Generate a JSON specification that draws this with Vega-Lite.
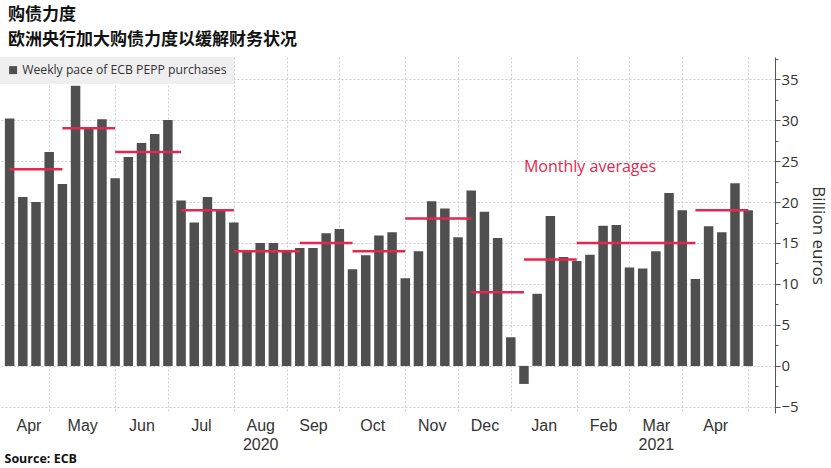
{
  "$schema": "https://vega.github.io/schema/vega-lite/v6.json",
  "width": 775,
  "height": 356,
  "autosize": {"type": "none"},
  "padding": {"left": 0, "top": 57, "right": 56, "bottom": 55},
  "background": "white",
  "title": {
    "text": "购债力度",
    "subtitle": "欧洲央行加大购债力度以缓解财务状况",
    "anchor": "start",
    "frame": "group",
    "dx": 8,
    "offset": 8,
    "font": "Noto Sans CJK SC",
    "fontSize": 17,
    "fontWeight": "bold",
    "color": "#111111",
    "subtitleFont": "Noto Sans CJK SC",
    "subtitleFontSize": 17,
    "subtitleFontWeight": "bold",
    "subtitleColor": "#111111",
    "subtitlePadding": 8
  },
  "datasets": {
    "weekly": [
      {"date": "2020-04-10", "value": 30.2},
      {"date": "2020-04-17", "value": 20.6},
      {"date": "2020-04-24", "value": 20.0},
      {"date": "2020-05-01", "value": 26.1},
      {"date": "2020-05-08", "value": 22.2},
      {"date": "2020-05-15", "value": 34.2},
      {"date": "2020-05-22", "value": 28.9},
      {"date": "2020-05-29", "value": 30.1},
      {"date": "2020-06-05", "value": 22.9},
      {"date": "2020-06-12", "value": 25.5},
      {"date": "2020-06-19", "value": 27.2},
      {"date": "2020-06-26", "value": 28.3},
      {"date": "2020-07-03", "value": 30.0},
      {"date": "2020-07-10", "value": 20.2},
      {"date": "2020-07-17", "value": 17.5},
      {"date": "2020-07-24", "value": 20.6},
      {"date": "2020-07-31", "value": 19.0},
      {"date": "2020-08-07", "value": 17.5},
      {"date": "2020-08-14", "value": 13.9},
      {"date": "2020-08-21", "value": 15.0},
      {"date": "2020-08-28", "value": 15.0},
      {"date": "2020-09-04", "value": 13.9},
      {"date": "2020-09-11", "value": 14.4},
      {"date": "2020-09-18", "value": 14.4},
      {"date": "2020-09-25", "value": 16.2},
      {"date": "2020-10-02", "value": 16.7},
      {"date": "2020-10-09", "value": 11.8},
      {"date": "2020-10-16", "value": 13.5},
      {"date": "2020-10-23", "value": 15.9},
      {"date": "2020-10-30", "value": 16.3},
      {"date": "2020-11-06", "value": 10.7},
      {"date": "2020-11-13", "value": 14.0},
      {"date": "2020-11-20", "value": 20.1},
      {"date": "2020-11-27", "value": 19.2},
      {"date": "2020-12-04", "value": 15.7},
      {"date": "2020-12-11", "value": 21.4},
      {"date": "2020-12-18", "value": 18.8},
      {"date": "2020-12-25", "value": 15.6},
      {"date": "2021-01-01", "value": 3.5},
      {"date": "2021-01-08", "value": -2.2},
      {"date": "2021-01-15", "value": 8.8},
      {"date": "2021-01-22", "value": 18.3},
      {"date": "2021-01-29", "value": 13.3},
      {"date": "2021-02-05", "value": 12.8},
      {"date": "2021-02-12", "value": 13.55},
      {"date": "2021-02-19", "value": 17.1},
      {"date": "2021-02-26", "value": 17.2},
      {"date": "2021-03-05", "value": 12.0},
      {"date": "2021-03-12", "value": 11.9},
      {"date": "2021-03-19", "value": 14.0},
      {"date": "2021-03-26", "value": 21.1},
      {"date": "2021-04-02", "value": 19.0},
      {"date": "2021-04-09", "value": 10.6},
      {"date": "2021-04-16", "value": 17.05},
      {"date": "2021-04-23", "value": 16.3},
      {"date": "2021-04-30", "value": 22.3},
      {"date": "2021-05-07", "value": 19.0}
    ],
    "monthly": [
      {"month": "Apr 2020", "start": "2020-04-10", "end": "2020-05-08", "value": 24.0},
      {"month": "May 2020", "start": "2020-05-08", "end": "2020-06-05", "value": 29.0},
      {"month": "Jun 2020", "start": "2020-06-05", "end": "2020-07-10", "value": 26.1},
      {"month": "Jul 2020", "start": "2020-07-10", "end": "2020-08-07", "value": 19.0},
      {"month": "Aug 2020", "start": "2020-08-07", "end": "2020-09-11", "value": 14.0},
      {"month": "Sep 2020", "start": "2020-09-11", "end": "2020-10-09", "value": 15.0},
      {"month": "Oct 2020", "start": "2020-10-09", "end": "2020-11-06", "value": 14.0},
      {"month": "Nov 2020", "start": "2020-11-06", "end": "2020-12-11", "value": 18.0},
      {"month": "Dec 2020", "start": "2020-12-11", "end": "2021-01-08", "value": 9.0},
      {"month": "Jan 2021", "start": "2021-01-08", "end": "2021-02-05", "value": 13.0},
      {"month": "Feb 2021", "start": "2021-02-05", "end": "2021-03-05", "value": 15.0},
      {"month": "Mar 2021", "start": "2021-03-05", "end": "2021-04-09", "value": 15.0},
      {"month": "Apr 2021", "start": "2021-04-09", "end": "2021-05-07", "value": 19.0}
    ],
    "notes": [
      {"label": "Monthly averages", "date": "2021-01-08", "value": 24.3}
    ]
  },
  "layer": [
    {
      "data": {"name": "weekly"},
      "mark": {"type": "bar", "width": 9.5},
      "encoding": {
        "x": {
          "field": "date",
          "type": "temporal",
          "scale": {
            "type": "utc",
            "domain": [
              {"year": 2020, "month": 4, "date": 7, "hours": 13, "utc": true},
              {"year": 2021, "month": 5, "date": 18, "hours": 14, "utc": true}
            ]
          },
          "axis": {
            "orient": "bottom",
            "values": [
              {"year": 2020, "month": 5, "date": 1, "utc": true},
              {"year": 2020, "month": 6, "date": 5, "utc": true},
              {"year": 2020, "month": 7, "date": 3, "utc": true},
              {"year": 2020, "month": 8, "date": 7, "utc": true},
              {"year": 2020, "month": 9, "date": 4, "utc": true},
              {"year": 2020, "month": 10, "date": 2, "utc": true},
              {"year": 2020, "month": 11, "date": 6, "utc": true},
              {"year": 2020, "month": 12, "date": 4, "utc": true},
              {"year": 2021, "month": 1, "date": 1, "utc": true},
              {"year": 2021, "month": 2, "date": 5, "utc": true},
              {"year": 2021, "month": 3, "date": 5, "utc": true},
              {"year": 2021, "month": 4, "date": 2, "utc": true},
              {"year": 2021, "month": 5, "date": 7, "utc": true}
            ],
            "labels": false,
            "ticks": false,
            "domain": false,
            "grid": true,
            "gridColor": "#cccccc",
            "gridDash": [2, 2],
            "gridWidth": 1,
            "title": null
          }
        },
        "y": {
          "field": "value",
          "type": "quantitative",
          "scale": {"domain": [-5.75, 37.7], "nice": false},
          "axis": {
            "orient": "right",
            "values": [-5, 0, 5, 10, 15, 20, 25, 30, 35],
            "grid": true,
            "gridColor": "#cccccc",
            "gridDash": [2, 2],
            "gridWidth": 1,
            "domain": true,
            "domainColor": "#555555",
            "domainWidth": 1,
            "tickColor": "#555555",
            "tickSize": 5,
            "labelFont": "Open Sans",
            "labelFontSize": 15,
            "labelColor": "#333333",
            "labelPadding": 1,
            "title": "Billion euros",
            "titleFont": "Open Sans",
            "titleFontSize": 17,
            "titleFontWeight": "normal",
            "titleColor": "#333333",
            "titleAngle": 90,
            "titlePadding": 10
          }
        },
        "y2": {"datum": 0},
        "color": {
          "datum": "Weekly pace of ECB PEPP purchases",
          "type": "nominal",
          "scale": {"range": ["#4f4f4f"]},
          "legend": {
            "orient": "top-left",
            "offset": 0,
            "title": null,
            "fillColor": "#efefef",
            "padding": 7,
            "symbolType": "square",
            "symbolSize": 64,
            "symbolStrokeWidth": 0,
            "labelOffset": 3,
            "labelLimit": 400,
            "labelFont": "Open Sans",
            "labelFontSize": 12.2,
            "labelColor": "#333333"
          }
        }
      }
    },
    {
      "data": {"name": "monthly"},
      "mark": {"type": "rule", "color": "#e3284f", "strokeWidth": 2.5},
      "encoding": {
        "x": {
          "field": "start",
          "type": "temporal",
          "axis": {
            "orient": "bottom",
            "values": [
              {"year": 2020, "month": 4, "date": 20, "utc": true},
              {"year": 2020, "month": 5, "date": 18, "hours": 12, "utc": true},
              {"year": 2020, "month": 6, "date": 19, "utc": true},
              {"year": 2020, "month": 7, "date": 20, "hours": 12, "utc": true},
              {"year": 2020, "month": 8, "date": 21, "utc": true},
              {"year": 2020, "month": 9, "date": 18, "utc": true},
              {"year": 2020, "month": 10, "date": 19, "hours": 12, "utc": true},
              {"year": 2020, "month": 11, "date": 20, "utc": true},
              {"year": 2020, "month": 12, "date": 18, "utc": true},
              {"year": 2021, "month": 1, "date": 18, "hours": 12, "utc": true},
              {"year": 2021, "month": 2, "date": 19, "utc": true},
              {"year": 2021, "month": 3, "date": 19, "utc": true},
              {"year": 2021, "month": 4, "date": 19, "hours": 12, "utc": true}
            ],
            "labelExpr": "utcFormat(datum.value,'%b')",
            "grid": false,
            "ticks": false,
            "domain": false,
            "labelOverlap": false,
            "labelFlush": false,
            "labelFont": "Liberation Sans",
            "labelFontSize": 16,
            "labelColor": "#333333",
            "labelPadding": 4,
            "title": "Source: ECB",
            "titleAnchor": "start",
            "titleAlign": "left",
            "titleBaseline": "alphabetic",
            "titleX": 4,
            "titleY": 49,
            "titleFont": "Open Sans",
            "titleFontSize": 12.5,
            "titleFontWeight": "bold",
            "titleColor": "#111111"
          }
        },
        "x2": {"field": "end"},
        "y": {
          "field": "value",
          "type": "quantitative",
          "axis": {
            "orient": "right",
            "values": [-2.5, 2.5, 7.5, 12.5, 17.5, 22.5, 27.5, 32.5, 37.5],
            "grid": false,
            "domain": false,
            "labels": false,
            "ticks": true,
            "tickSize": 3,
            "tickColor": "#555555",
            "title": null
          }
        }
      }
    },
    {
      "data": {"name": "notes"},
      "mark": {"type": "text", "align": "left", "baseline": "middle", "color": "#e3284f", "font": "Open Sans", "fontSize": 16},
      "encoding": {
        "x": {
          "field": "date",
          "type": "temporal",
          "axis": {
            "orient": "bottom",
            "values": [
              {"year": 2020, "month": 8, "date": 21, "utc": true},
              {"year": 2021, "month": 3, "date": 19, "utc": true}
            ],
            "labelExpr": "utcFormat(datum.value,'%Y')",
            "grid": false,
            "ticks": false,
            "domain": false,
            "labelOverlap": false,
            "labelFlush": false,
            "labelFont": "Liberation Sans",
            "labelFontSize": 16,
            "labelColor": "#333333",
            "labelPadding": 23,
            "title": null
          }
        },
        "y": {"field": "value", "type": "quantitative", "axis": null},
        "text": {"field": "label"}
      }
    }
  ],
  "resolve": {"axis": {"x": "independent", "y": "independent"}},
  "config": {"view": {"stroke": null}}
}
